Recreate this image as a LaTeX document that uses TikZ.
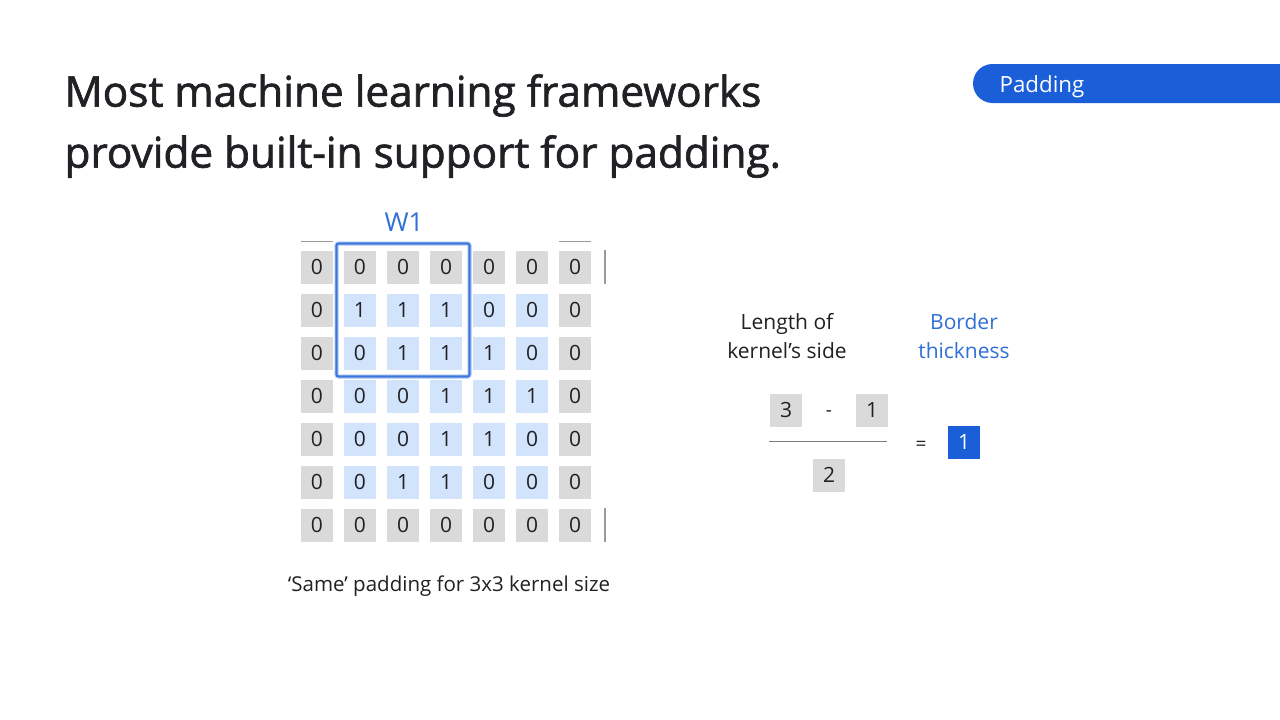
\documentclass[tikz,border=0pt]{standalone}
\usepackage{fontspec}
\setmainfont{Open Sans}
\newfontfamily\headfont[FakeBold=1.6]{Open Sans}
\usetikzlibrary{positioning}
\definecolor{ink}{HTML}{202124}
\definecolor{cellgray}{HTML}{DADADA}
\definecolor{cellblue}{HTML}{D2E3FC}
\definecolor{accent}{HTML}{1A5FD8}
\definecolor{textblue}{HTML}{2F6FD6}
\definecolor{rulegray}{HTML}{9A9A9A}
\tikzset{
  cell/.style={minimum width=32, minimum height=33, inner sep=0, text=ink,
    font=\fontsize{21}{21}\selectfont},
  padcell/.style={cell, fill=cellgray},
  incell/.style={cell, fill=cellblue},
  kernelbox/.style={draw=accent!85, line width=2.2, rounded corners=2,
    minimum width=133, minimum height=133, inner sep=0},
  label/.style={text=ink, align=center, font=\fontsize{21}{29}\selectfont},
  thinrule/.style={draw=rulegray, line width=1},
  opsign/.style={text=ink, font=\fontsize{19}{19}\selectfont},
}
\begin{document}
\begin{tikzpicture}[x=1pt,y=-1pt]
  % canvas
  \path[fill=white, use as bounding box] (0,0) rectangle (1280,720);

  % title
  \node[anchor=west, text=ink, align=left,
    font=\headfont\fontsize{42.3}{61}\selectfont] (title) at (61,126)
    {Most machine learning frameworks\\provide built-in support for padding.};

  % section tag (runs off the right edge)
  \path[fill=accent, rounded corners=19.5] (973,64) rectangle (1320,103);
  \node[text=white, font=\fontsize{22.3}{22}\selectfont] (tag) at (1042,86.5) {Padding};

  % padded input grid (7x7), row 0 at top
  \foreach \row/\vals in {0/{0,0,0,0,0,0,0},1/{0,1,1,1,0,0,0},2/{0,0,1,1,1,0,0},
      3/{0,0,0,1,1,1,0},4/{0,0,0,1,1,0,0},5/{0,0,1,1,0,0,0},6/{0,0,0,0,0,0,0}}{
    \foreach \v [count=\col from 0] in \vals {
      \pgfmathtruncatemacro{\edge}{(\row==0)||(\row==6)||(\col==0)||(\col==6)}
      \ifnum\edge=1
        \node[padcell] (c-\row-\col) at (317+43*\col, 267+43*\row) {\v};
      \else
        \node[incell] (c-\row-\col) at (317+43*\col, 267+43*\row) {\v};
      \fi
    }
  }

  % kernel window
  \node[kernelbox, draw=accent!25, line width=4.5] at (c-1-2) {};
  \node[kernelbox] (kernel) at (c-1-2) {};
  \node[text=textblue, font=\fontsize{26}{26}\selectfont] (w1) at (404,222) {W1};

  % edge marks around the grid
  \draw[thinrule] ([yshift=9]c-0-0.north west) -- ([yshift=9]c-0-0.north east);
  \draw[thinrule] ([yshift=9]c-0-6.north west) -- ([yshift=9]c-0-6.north east);
  \draw[draw=rulegray, line width=1.5] ([xshift=14]c-0-6.north east) -- ([xshift=14]c-0-6.south east);
  \draw[draw=rulegray, line width=1.5] ([xshift=14]c-6-6.north east) -- ([xshift=14]c-6-6.south east);

  \node[label, font=\fontsize{20.5}{20.5}\selectfont] (caption) at (449,586.5)
    {‘Same’ padding for 3x3 kernel size};

  % formula
  \node[label] (klen) at (787,336) {Length of\\kernel’s side};
  \node[label, text=textblue] (border) at (964,336) {Border\\thickness};

  \node[padcell] (k) at (786,410) {3};
  \node[opsign] (minus) at (829,414) {-};
  \node[padcell] (one) at (872,410) {1};
  \node[padcell] (two) at (829,475) {2};
  \coordinate (barL) at (769,441);
  \coordinate (barR) at (887,441);
  \draw[draw=rulegray!80!black, line width=1] (barL) -- (barR);
  \node[opsign] (eq) at (921,446) {=};
  \node[cell, fill=accent, text=white] (res) at (964,442) {1};
\end{tikzpicture}
\end{document}
